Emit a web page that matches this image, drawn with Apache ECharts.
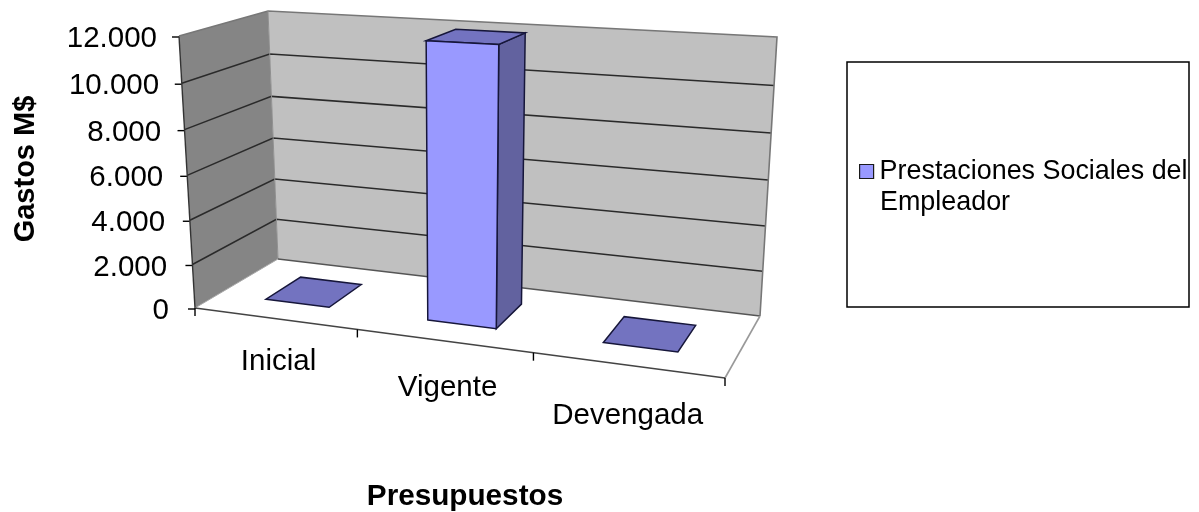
<!DOCTYPE html>
<html>
<head>
<meta charset="utf-8">
<style>html,body{margin:0;padding:0;background:#fff}#chart{width:1199px;height:512px}</style>
<script src="https://cdn.jsdelivr.net/npm/echarts@6/dist/echarts.min.js"></script>
</head>
<body>
<div id="chart"></div>
<script>
// Chart content
const categories = ['Inicial', 'Vigente', 'Devengada'];
const gastos = [0, 11950, 0];
const yTicks = [0, 2000, 4000, 6000, 8000, 10000, 12000];
const yTickLabels = ['0', '2.000', '4.000', '6.000', '8.000', '10.000', '12.000'];
const legendLines = ['Prestaciones Sociales del', 'Empleador'];
const xTitle = 'Presupuestos';
const yTitle = 'Gastos M$';

const FONT = '"Liberation Sans", Arial, sans-serif';

// Plain 2D grid whose axes supply the scales; every point is then passed
// through the 3D box projection below.
const GRID = { left: 200, top: 40, width: 530, height: 270 };

// Screen corners of the 3D box: [front/back][left/right][floor/ceiling]
const BOX = {
  flb: [195, 308], frb: [725, 378], blb: [278, 259], brb: [760, 316],
  flt: [179, 36],  frt: [742, 64],  blt: [268, 11],  brt: [777, 37]
};
const PERSPECTIVE_X = 0.132;
const PERSPECTIVE_Y = 0.05;
const BAR_WIDTH = 0.4;        // share of a category band
const DEPTH = [0.3, 0.74];    // bar extent along the depth axis
const CATEGORY_LABEL_NUDGE = [4, 4, 0.5];

const mix = (a, b, k) => [a[0] + (b[0] - a[0]) * k, a[1] + (b[1] - a[1]) * k];

// u: across categories 0..1, v: depth 0..1, t: height 0..1
function project(u, v, t) {
  const U = u / (1 + PERSPECTIVE_X * (1 - u));
  const T = t / (1 + PERSPECTIVE_Y * (1 - t));
  const floor = mix(mix(BOX.flb, BOX.frb, U), mix(BOX.blb, BOX.brb, U), v);
  const ceil = mix(mix(BOX.flt, BOX.frt, U), mix(BOX.blt, BOX.brt, U), v);
  return mix(floor, ceil, T);
}

// Pixel position on the hidden grid to normalised box coordinates
const toU = px => (px - GRID.left) / GRID.width;
const toT = py => (GRID.top + GRID.height - py) / GRID.height;

const poly = (points, fill, stroke, lineWidth) => ({
  type: 'polygon', shape: { points },
  style: { fill, stroke: stroke || null, lineWidth: lineWidth || 0 }
});
const line = (points, stroke, lineWidth) => ({
  type: 'polyline', shape: { points },
  style: { fill: null, stroke, lineWidth }
});
const label = (text, x, y, align) => ({
  type: 'text',
  style: { text, x, y, align, verticalAlign: 'middle', fontSize: 29.5, fontFamily: FONT, fill: '#000' }
});

// Walls, floor, gridlines, ticks and axis labels
function renderFrame(params, api) {
  const kids = [];
  const P = project;
  kids.push(poly([P(0, 0, 0), P(1, 0, 0), P(1, 1, 0), P(0, 1, 0)], '#ffffff'));
  kids.push(poly([P(0, 0, 0), P(0, 1, 0), P(0, 1, 1), P(0, 0, 1)], '#858585'));
  kids.push(poly([P(0, 1, 0), P(1, 1, 0), P(1, 1, 1), P(0, 1, 1)], '#c0c0c0'));

  yTicks.forEach((tick, i) => {
    const t = toT(api.coord([0, tick])[1]);
    if (tick > 0 && tick < yTicks[yTicks.length - 1]) {
      kids.push(line([P(0, 0, t), P(0, 1, t), P(1, 1, t)], '#2a2a2a', 1.5));
    }
    const a = P(0, 0, t);
    kids.push(line([[a[0] - 7, a[1] + 1], [a[0], a[1] + 1]], '#000', 1.4));
    kids.push(label(yTickLabels[i], a[0] - 26 + 4 * t, a[1] + 3, 'right'));
  });

  // Box outline
  kids.push(line([P(0, 0, 0), P(0, 0, 1)], '#333', 1.4));
  kids.push(line([P(0, 0, 1), P(0, 1, 1), P(1, 1, 1), P(1, 1, 0)], '#777', 1.6));
  kids.push(line([P(0, 1, 1), P(0, 1, 0)], '#909090', 1));
  kids.push(line([P(0, 1, 0), P(1, 1, 0)], '#555', 1.4));
  kids.push(line([P(0, 0, 0), P(0, 1, 0)], '#aaa', 1));
  kids.push(line([P(1, 1, 0), P(1, 0, 0)], '#999', 1.6));
  kids.push(line([P(0, 0, 0), P(1, 0, 0)], '#444', 1.7));

  // Category ticks and labels along the front floor edge
  const band = api.size([1, 0])[0];
  categories.forEach((name, i) => {
    const center = toU(api.coord([i, 0])[0]);
    const step = band / GRID.width;
    [center - step / 2, center + step / 2].forEach((edge, k) => {
      if (i > 0 && k === 0) return;
      const a = P(edge, 0, 0);
      kids.push(line([a, [a[0], a[1] + 8]], '#000', 1.4));
    });
    const c = P(center, 0, 0);
    kids.push(label(name, c[0] + CATEGORY_LABEL_NUDGE[i], c[1] + 42 + 10 * center, 'center'));
  });
  return { type: 'group', children: kids };
}

// One box per category: side, top, then front face
function renderBar(params, api) {
  const pt = api.coord([api.value(0), api.value(1)]);
  const half = BAR_WIDTH * api.size([1, 0])[0] / GRID.width / 2;
  const u0 = toU(pt[0]) - half, u1 = toU(pt[0]) + half;
  const t = toT(pt[1]);
  const [v0, v1] = DEPTH;
  const edge = '#16163a';
  const kids = [];
  if (t > 0) {
    kids.push(poly([project(u1, v0, 0), project(u1, v1, 0), project(u1, v1, t), project(u1, v0, t)], '#62629f', edge, 1.5));
  }
  kids.push(poly([project(u0, v0, t), project(u1, v0, t), project(u1, v1, t), project(u0, v1, t)], '#7373c0', edge, 1.5));
  if (t > 0) {
    kids.push(poly([project(u0, v0, 0), project(u1, v0, 0), project(u1, v0, t), project(u0, v0, t)], '#9999ff', edge, 1.5));
  }
  return { type: 'group', children: kids };
}

const chart = echarts.init(document.getElementById('chart'), null, { renderer: 'canvas' });
chart.setOption({
  animation: false,
  backgroundColor: '#ffffff',
  grid: GRID,
  xAxis: { type: 'category', data: categories, show: false },
  yAxis: { type: 'value', min: 0, max: 12000, interval: 2000, show: false },
  legend: {
    left: 859, top: 158, padding: 0,
    data: [legendLines.join(' ')],
    icon: 'rect', itemWidth: 14, itemHeight: 14, itemGap: 0,
    formatter: () => legendLines[0],
    itemStyle: { borderColor: '#1a1a1a', borderWidth: 1.2 },
    textStyle: { fontFamily: FONT, fontSize: 26.9, color: '#000', padding: [0, 0, 0, 1] },
    selectedMode: false
  },
  graphic: [
    { type: 'rect', shape: { x: 847, y: 62, width: 342, height: 245 }, style: { fill: 'none', stroke: '#000', lineWidth: 1.5 } },
    { type: 'text', x: 880, y: 203, style: { text: legendLines[1], fontFamily: FONT, fontSize: 26.9, fill: '#000', verticalAlign: 'middle' } },
    { type: 'text', x: 465, y: 497, style: { text: xTitle, fontFamily: FONT, fontWeight: 'bold', fontSize: 29.7, fill: '#000', align: 'center', verticalAlign: 'middle' } },
    { type: 'text', x: 26, y: 169, rotation: Math.PI / 2, style: { text: yTitle, fontFamily: FONT, fontWeight: 'bold', fontSize: 29, fill: '#000', align: 'center', verticalAlign: 'middle' } }
  ],
  series: [
    {
      type: 'custom', name: 'frame', silent: true, z: 1,
      coordinateSystem: 'cartesian2d',
      renderItem: renderFrame,
      data: [[categories[0], 0]],
      encode: { x: 0, y: 1 }
    },
    {
      type: 'custom', name: legendLines.join(' '), silent: true, z: 2,
      coordinateSystem: 'cartesian2d',
      itemStyle: { color: '#9999ff' },
      renderItem: renderBar,
      data: categories.map((c, i) => [c, gastos[i]]),
      encode: { x: 0, y: 1 }
    }
  ]
});
</script>
</body>
</html>
